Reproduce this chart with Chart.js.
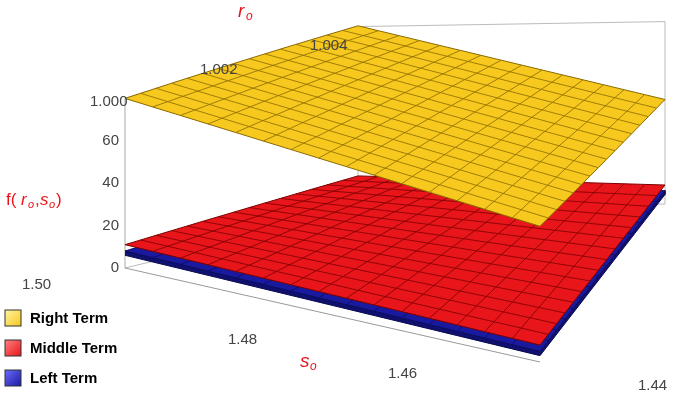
<!DOCTYPE html>
<html><head><meta charset="utf-8">
<script src="https://cdn.jsdelivr.net/npm/chart.js@4/dist/chart.umd.min.js"></script>
<style>html,body{margin:0;padding:0;background:#fff}#w{width:685px;height:403px}</style>
</head><body><div id="w"><canvas id="c"></canvas></div>
<script>
// data: surface heights at grid corners [s index][r index]
const sValues = [1.50, 1.44];
const rValues = [1.000, 1.004];
const sTicks = ['1.50','1.48','1.46','1.44'];
const rTicks = ['1.000','1.002','1.004'];
const zTicks = [0,20,40,60];
const rightTerm  = [[80, 98],[64, 55]];
const middleTerm = [[11, 19],[8, 10]];
const leftTerm   = [[8, 16],[5, 7]];
const meshN = 15;

// projection (screen space of box base corners)
const A=[125,268],B=[540,362],C=[358,212],D=[665,204];
const zsc=[2.12,2.12,1.9,1.9];
function lerp(a,b,t){return a+(b-a)*t;}
function P(u,v,z){
  const x=lerp(lerp(A[0],B[0],u),lerp(C[0],D[0],u),v);
  const y=lerp(lerp(A[1],B[1],u),lerp(C[1],D[1],u),v);
  const k=lerp(lerp(zsc[0],zsc[1],u),lerp(zsc[2],zsc[3],u),v);
  return {x:x,y:y-z*k};
}
function Z(t,u,v){return lerp(lerp(t[0][0],t[1][0],u),lerp(t[0][1],t[1][1],u),v);}
const datasets=[];
function push(d){d.order=-datasets.length;datasets.push(d);}
function line(pts,color,w){push({data:pts,showLine:true,borderColor:color,borderWidth:w,pointRadius:0,fill:false});}
// box
const zTop=80;
line([P(0,0,0),P(0,0,zTop)],'#aaa',1);
line([P(0,1,0),P(0,1,zTop*1.22)],'#bbb',1);
line([P(1,1,0),P(1,1,zTop*1.2)],'#bbb',1);
line([P(0,0,zTop),P(0,1,zTop*1.22),P(1,1,zTop*1.2)],'#bbb',1);
line([P(0,1,0),P(1,1,0)],'#bbb',1);
line([P(0,0,0),P(0,1,0)],'#bbb',1);
line([P(0,0,0),P(1,0,0)],'#999',1);
function surface(t,fillc,gridc,edge){
  const poly=[];
  for(let i=0;i<=meshN;i++)poly.push(P(i/meshN,0,Z(t,i/meshN,0)));
  for(let i=0;i<=meshN;i++)poly.push(P(1,i/meshN,Z(t,1,i/meshN)));
  for(let i=meshN;i>=0;i--)poly.push(P(i/meshN,1,Z(t,i/meshN,1)));
  for(let i=meshN;i>=0;i--)poly.push(P(0,i/meshN,Z(t,0,i/meshN)));
  if(edge){
    const side=[P(0,0,Z(t,0,0)),P(1,0,Z(t,1,0)),P(1,1,Z(t,1,1)),P(1,1,Z(t,1,1)-edge),P(1,0,Z(t,1,0)-edge),P(0,0,Z(t,0,0)-edge)];
    push({data:side,showLine:true,borderColor:'#0b0b50',borderWidth:1,pointRadius:0,fill:'shape',backgroundColor:'#101070'});
  }
  push({data:poly,showLine:true,borderColor:gridc,borderWidth:1,pointRadius:0,fill:'shape',backgroundColor:fillc});
  for(let i=1;i<meshN;i++){
    const a=[],b=[];
    for(let j=0;j<=meshN;j++){a.push(P(i/meshN,j/meshN,Z(t,i/meshN,j/meshN)));b.push(P(j/meshN,i/meshN,Z(t,j/meshN,i/meshN)));}
    line(a,gridc,0.8);line(b,gridc,0.8);
  }
}
surface(leftTerm,'#1a1aa0','#0a0a60',2);
surface(middleTerm,'#e8151b','#7a0000',0);
surface(rightTerm,'#f7c81e','#8a6a00',0);

const texts={id:'texts',afterDatasetsDraw(ch){
  const c=ch.ctx;c.save();
  c.fillStyle='#444';c.font='15px "Liberation Sans",Arial';c.textBaseline='middle';
  c.textAlign='right';
  zTicks.forEach(z=>{const p=P(0,0,z);c.fillText(String(z),p.x-6,p.y);});
  c.textAlign='left';
  const sPos=[[22,285],[228,340],[388,374],[638,386]];
  sTicks.forEach((t,i)=>c.fillText(t,sPos[i][0],sPos[i][1]));
  const rPos=[[90,102],[200,70],[310,46]];
  rTicks.forEach((t,i)=>c.fillText(t,rPos[i][0],rPos[i][1]));
  c.fillStyle='#e8151b';
  c.font='italic 19px "Liberation Sans",Arial';c.fillText('r',238,12);
  c.font='italic 12px "Liberation Sans",Arial';c.fillText('o',246,17);
  c.font='italic 19px "Liberation Sans",Arial';c.fillText('s',300,362);
  c.font='italic 12px "Liberation Sans",Arial';c.fillText('o',310,367);
  c.font='17px "Liberation Sans",Arial';
  c.fillText('f(',6,200);c.font='italic 17px "Liberation Sans",Arial';c.fillText('r',21,200);
  c.font='italic 11px "Liberation Sans",Arial';c.fillText('o',28,205);
  c.font='17px "Liberation Sans",Arial';c.fillText(',',35,200);
  c.font='italic 17px "Liberation Sans",Arial';c.fillText('s',40,200);
  c.font='italic 11px "Liberation Sans",Arial';c.fillText('o',49,205);
  c.font='17px "Liberation Sans",Arial';c.fillText(')',56,200);
  const leg=[['Right Term','#f7c81e','#fff3a0'],['Middle Term','#e8151b','#ff8080'],['Left Term','#1a1aa0','#6a6aff']];
  leg.forEach((l,i)=>{const y=318+i*30;
    const g=c.createLinearGradient(5,y-8,21,y+8);g.addColorStop(0,l[2]);g.addColorStop(1,l[1]);
    c.fillStyle=g;c.fillRect(5,y-8,16,16);c.strokeStyle='#333';c.strokeRect(5,y-8,16,16);
    c.fillStyle='#000';c.font='bold 15px "Liberation Sans",Arial';c.fillText(l[0],30,y+1);});
  c.restore();}};
new Chart(document.getElementById('c'),{type:'scatter',data:{datasets},
  options:{responsive:true,maintainAspectRatio:false,animation:false,layout:{padding:0},
    plugins:{legend:{display:false},tooltip:{enabled:false}},
    scales:{x:{type:'linear',min:0,max:685,display:false},y:{type:'linear',min:0,max:403,reverse:true,display:false}}},
  plugins:[texts]});
</script></body></html>
